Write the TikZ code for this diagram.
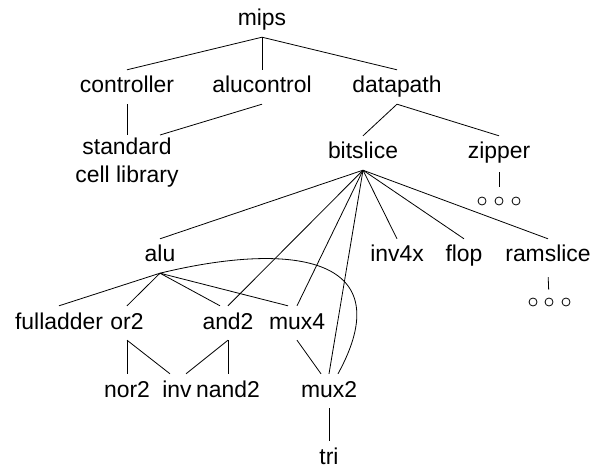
\documentclass[tikz,border=0pt]{standalone}
\usepackage{fontspec}
\setmainfont{Liberation Sans}
\newcommand\modfont{\fontsize{22.9bp}{28bp}\selectfont}

\begin{document}
\begin{tikzpicture}[x=1bp,y=-1bp,
      mod/.style={font=\modfont,inner xsep=2bp,inner ysep=6bp,
                  text height=17bp,text depth=5bp,anchor=base},
      lib/.style={font=\modfont,inner sep=3bp,align=center,anchor=north},
      more/.style={circle,draw,line width=0.8bp,minimum size=8bp,inner sep=0pt},
      ln/.style={line width=0.8bp}
    ]
    \useasboundingbox (0,0) rectangle (596,469);

    \node[mod] (mips) at (262,26) {mips};
    \node[mod] (ctrl) at (127,93) {controller};
    \node[mod] (aluc) at (262,93) {alucontrol};
    \node[mod] (dp)   at (397,93) {datapath};
    \node[lib] (std)  at (127,135) {standard\\cell library};
    \node[mod] (bs)   at (363,159) {bitslice};
    \node[mod] (zip)  at (499,159) {zipper};
    \node[mod] (alu)  at (160,262) {alu};
    \node[mod] (inv4x) at (397,262) {inv4x};
    \node[mod] (flop) at (464,262) {flop};
    \node[mod] (ram)  at (548,262) {ramslice};
    \node[mod] (fa)   at (59,329) {fulladder};
    \node[mod] (or2)  at (127,329) {or2};
    \node[mod] (and2) at (228,329) {and2};
    \node[mod] (mux4) at (297,329) {mux4};
    \node[mod] (nor2) at (127,397) {nor2};
    \node[mod] (inv)  at (177,397) {inv};
    \node[mod] (nand2) at (228,397) {nand2};
    \node[mod] (mux2) at (329,397) {mux2};
    \node[mod] (tri)  at (329,464) {tri};

    \foreach \i/\x in {1/482,2/499,3/516} \node[more] (zip\i) at (\x,201) {};
    \foreach \i/\x in {1/533,2/549,3/566} \node[more] (ram\i) at (\x,302) {};

    \foreach \c in {ctrl,aluc,dp} \draw[ln] (mips.south) -- (\c.north);
    \draw[ln] (ctrl.south) -- (std.north);
    \draw[ln] (aluc.south) -- ([xshift=33bp]std.north);
    \foreach \c in {bs,zip} \draw[ln] (dp.south) -- (\c.north);
    \draw[ln,shorten <=2bp,shorten >=10bp] (zip.south) -- (zip2.north);

    \foreach \c in {alu,and2,mux4,mux2,inv4x,flop,ram} \draw[ln] (bs.south) -- (\c.north);
    \draw[ln,shorten <=4bp,shorten >=8bp] (ram.south) -- (ram2.north);

    \foreach \c in {fa,or2} \draw[ln] (alu.south) -- (\c.north);
    \draw[ln] (alu.south) -- ([xshift=-8bp]and2.north);
    \draw[ln] (alu.south) -- ([xshift=-9bp]mux4.north);
    \draw[ln] (alu.south) .. controls (297,240) and (401,259) .. ([xshift=9bp]mux2.north);

    \draw[ln] (or2.south) -- (nor2.north);
    \draw[ln] (or2.south) -- ([xshift=-7bp]inv.north);
    \draw[ln] (and2.south) -- ([xshift=9bp]inv.north);
    \draw[ln] (and2.south) -- (nand2.north);
    \draw[ln] (mux4.south) -- ([xshift=-8bp]mux2.north);
    \draw[ln] (mux2.south) -- (tri.north);
  \end{tikzpicture}
\end{document}
